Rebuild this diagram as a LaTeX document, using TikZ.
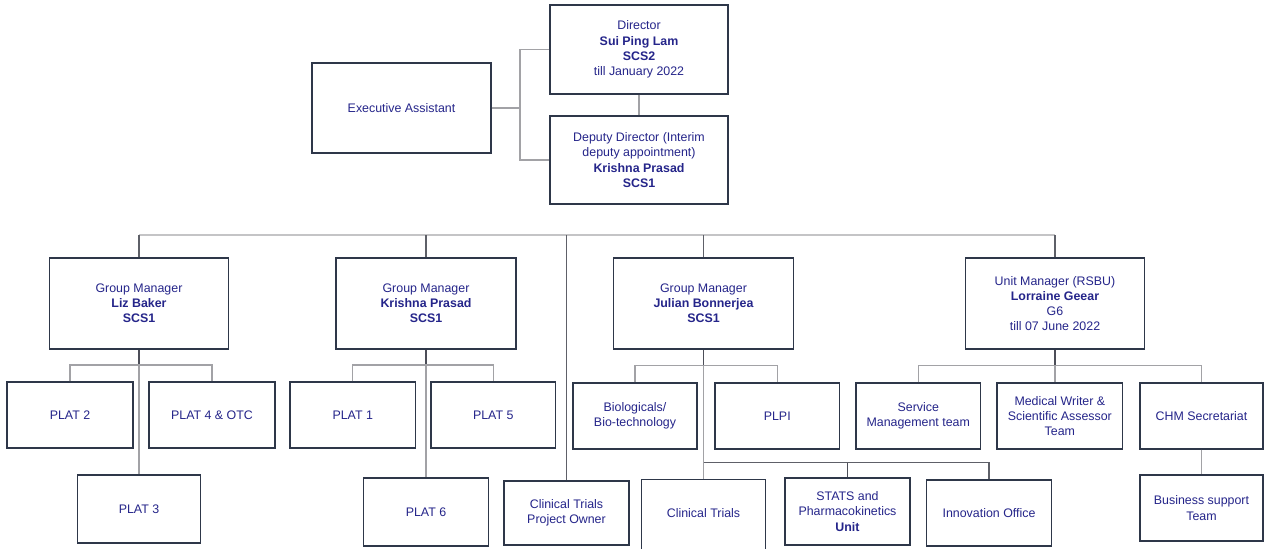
\documentclass[tikz,border=0pt]{standalone}
\usepackage{fontspec}
\setmainfont{Liberation Sans}
\definecolor{txtblue}{HTML}{25258A}
\definecolor{frame}{HTML}{2E3749}
\definecolor{trunk}{HTML}{4C4E58}
\definecolor{branch}{HTML}{A2A2A6}
\definecolor{busgray}{HTML}{C4C4C6}
\definecolor{dropgray}{HTML}{5E6068}
\tikzset{
  orgbox/.style={draw=frame, line width=0.7pt, fill=white, align=center,
    text=txtblue, inner sep=1pt,
    font=\fontsize{6.2}{7.6}\selectfont},
  plainbox/.style={orgbox, draw=none, fill=none},
  trunkline/.style={draw=trunk, line width=0.6pt},
  branchline/.style={draw=branch, line width=0.6pt},
  busline/.style={draw=busgray, line width=0.75pt},
  dropline/.style={draw=dropgray, line width=0.6pt},
}
\begin{document}
\begin{tikzpicture}[x=0.5pt, y=-0.5pt]
\useasboundingbox (0,0) rectangle (1267,548);

% ---------- top: director, deputy, assistant ----------
\node[orgbox, minimum width=89.5pt, minimum height=45pt] (exec) at (401.5,108) {Executive Assistant};
\node[orgbox, minimum width=89pt, minimum height=44.5pt] (dir) at (639,49.5)
  {Director\\ \textbf{Sui Ping Lam}\\ \textbf{SCS2}\\ till January 2022};
\node[orgbox, minimum width=89pt, minimum height=44pt] (dep) at (639,160)
  {Deputy Director (Interim\\ deputy appointment)\\ \textbf{Krishna Prasad}\\ \textbf{SCS1}};

\coordinate (ej) at (520,108);
\draw[branchline] (exec.east) -- (ej);
\draw[branchline] (dir.west) -| (ej) |- (dep.west);
\draw[branchline] (dir.south) -- (dep.north);

% ---------- managers ----------
\node[orgbox, minimum width=89.5pt, minimum height=45.5pt] (liz) at (139,303.5)
  {Group Manager\\ \textbf{Liz Baker}\\ \textbf{SCS1}};
\node[orgbox, minimum width=90pt, minimum height=45.5pt] (kp) at (426,303.5)
  {Group Manager\\ \textbf{Krishna Prasad}\\ \textbf{SCS1}};
\node[orgbox, minimum width=90pt, minimum height=45.5pt] (jb) at (703.5,303.5)
  {Group Manager\\ \textbf{Julian Bonnerjea}\\ \textbf{SCS1}};
\node[orgbox, minimum width=89.5pt, minimum height=45.5pt] (lg) at (1055,303.5)
  {Unit Manager (RSBU)\\ \textbf{Lorraine Geear}\\ G6\\ till 07 June 2022};

% ---------- teams ----------
\node[orgbox, minimum width=63pt, minimum height=33pt] (plat2) at (70,415) {PLAT 2};
\node[orgbox, minimum width=63pt, minimum height=33pt] (plat4) at (212,415) {PLAT 4 \& OTC};
\node[orgbox, minimum width=61.5pt, minimum height=34pt] (plat3) at (139,509) {PLAT 3};

\node[orgbox, minimum width=62.75pt, minimum height=33pt] (plat1) at (352.75,415) {PLAT 1};
\node[orgbox, minimum width=62.25pt, minimum height=33pt] (plat5) at (493.25,415) {PLAT 5};
\node[orgbox, minimum width=62.5pt, minimum height=34pt] (plat6) at (426,512) {PLAT 6};

\node[orgbox, minimum width=62.5pt, minimum height=32pt] (ctpo) at (566.5,513)
  {Clinical Trials\\ Project Owner};

\node[orgbox, minimum width=62pt, minimum height=33pt] (bio) at (635,416)
  {Biologicals/\\ Bio-technology};
\node[orgbox, minimum width=62.25pt, minimum height=33pt] (plpi) at (777.25,416) {PLPI};
\node[plainbox, minimum width=61.5pt, minimum height=33pt] (ct) at (703.5,513) {Clinical Trials};
\draw[draw=frame, line width=0.7pt] ([yshift=-20pt]ct.south west) |- (ct.north east)
  -- ([yshift=-20pt]ct.south east);
\node[orgbox, minimum width=62.5pt, minimum height=33.5pt] (stats) at (847.5,511.5)
  {STATS and\\ Pharmacokinetics\\ \textbf{Unit}};
\node[orgbox, minimum width=62.5pt, minimum height=33pt] (innov) at (989,513) {Innovation Office};

\node[orgbox, minimum width=62.25pt, minimum height=33pt] (smt) at (918.25,416)
  {Service\\ Management team};
\node[orgbox, minimum width=62.85pt, minimum height=33pt] (mw) at (1059.85,416)
  {Medical Writer \&\\ Scientific Assessor\\ Team};
\node[orgbox, minimum width=61.5pt, minimum height=33pt] (chm) at (1201.5,416) {CHM Secretariat};
\node[orgbox, minimum width=61.5pt, minimum height=33pt] (bst) at (1201.5,508)
  {Business support\\ Team};

% ---------- main bus ----------
\coordinate (busL) at (139,235);
\coordinate (busR) at (1055,235);
\draw[busline] (busL) -- (busR);
\draw[dropline] (busL) -- (liz.north);
\draw[dropline] (kp.north |- busL) -- (kp.north);
\draw[dropline] (jb.north |- busL) -- (jb.north);
\draw[dropline] (busR) -- (lg.north);
\draw[dropline] (ctpo.north |- busL) -- (ctpo.north);

% ---------- Liz Baker group ----------
\coordinate (lj) at (139,365);
\draw[trunkline] (liz.south) -- (lj);
\draw[branchline] (lj) -- (plat3.north);
\draw[branchline] (plat2.north) |- (lj) -| (plat4.north);

% ---------- Krishna Prasad group ----------
\coordinate (kj) at (426,365);
\draw[trunkline] (kp.south) -- (kj);
\draw[branchline] (kj) -- (plat6.north);
\draw[branchline] (plat1.north) |- (kj) -| (plat5.north);

% ---------- Julian Bonnerjea group ----------
\coordinate (jj) at (703.5,365.5);
\coordinate (jl) at (703.5,462.5);
\draw[trunkline] (jb.south) -- (jj);
\draw[branchline] (bio.north) |- (jj) -| (plpi.north);
\draw[branchline] (jj) -- (jl) -- (ct.north);
\draw[draw=dropgray, line width=0.6pt] (jl) -| (innov.north);
\draw[trunkline] (stats.north |- jl) -- (stats.north);

% ---------- Lorraine Geear unit ----------
\coordinate (gj) at (1055,365.5);
\draw[trunkline] (lg.south) -- (gj);
\draw[branchline] (smt.north) |- (gj) -| (chm.north);
\draw[branchline] (gj) -- (gj |- mw.north);
\draw[branchline] (chm.south) -- (bst.north);
\end{tikzpicture}
\end{document}
